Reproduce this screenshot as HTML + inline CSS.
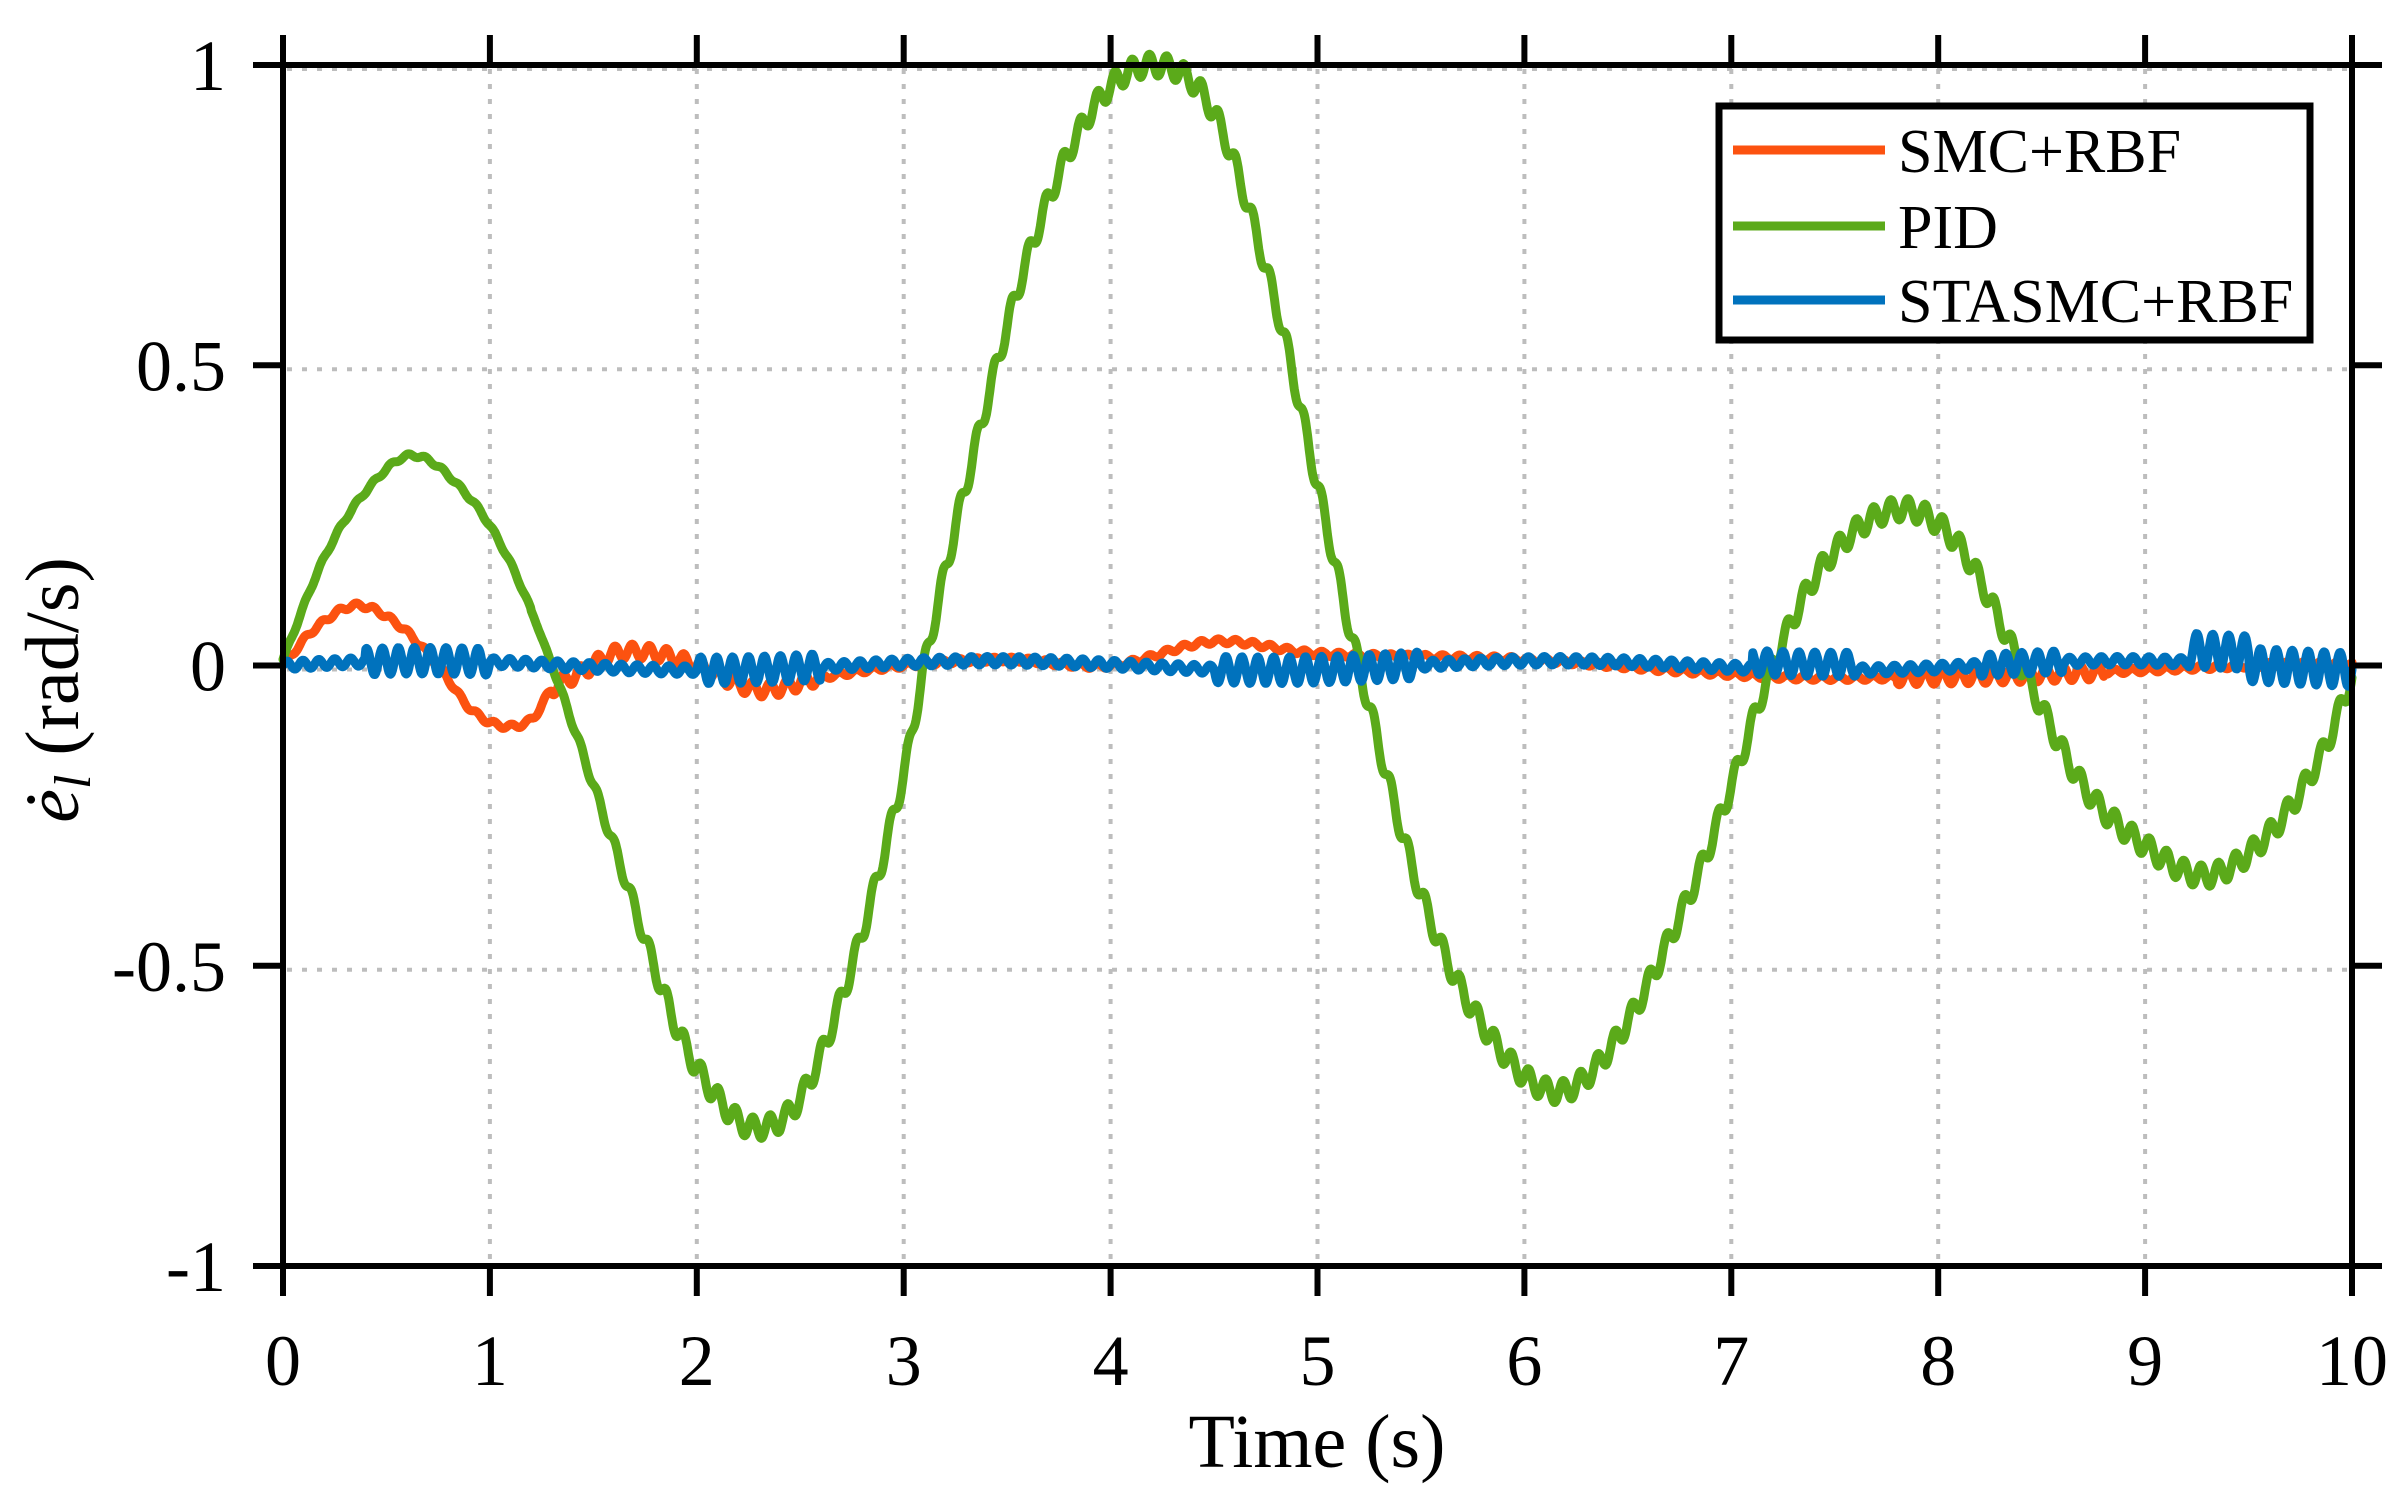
<!DOCTYPE html>
<html><head><meta charset="utf-8"><style>
html,body{margin:0;padding:0;background:#fff;}
svg{display:block;}
text{font-family:"Liberation Serif",serif;fill:#000;}
</style></head><body>
<svg id="s" width="2406" height="1504" viewBox="0 0 2406 1504" xmlns="http://www.w3.org/2000/svg">
<rect width="2406" height="1504" fill="#fff"/>
<g id="grid" stroke="#bdbdbd" stroke-width="4" stroke-dasharray="5 10"></g>
<g id="series" fill="none" stroke-linejoin="round" stroke-linecap="round"></g>
<g id="axes" stroke="#000" stroke-width="6" fill="none"></g>
<g id="labels" font-size="72"></g>
<text x="1317" y="1467" font-size="76" text-anchor="middle">Time (s)</text>
<g transform="translate(78,690) rotate(-90)"><text x="0" y="0" font-size="76" text-anchor="middle"><tspan font-style="italic">ė</tspan><tspan font-style="italic" font-size="52" dy="12">l</tspan><tspan dy="-12">  (rad/s)</tspan></text></g>
<g id="legend">
<rect x="1719" y="106" width="591" height="234" fill="#fff" stroke="#000" stroke-width="7"/>
<line x1="1733" y1="150" x2="1885" y2="150" stroke="#FC5210" stroke-width="9"/>
<line x1="1733" y1="226" x2="1885" y2="226" stroke="#5BAA1A" stroke-width="9"/>
<line x1="1733" y1="300" x2="1885" y2="300" stroke="#0072BD" stroke-width="9"/>
<text x="1898" y="172" font-size="62">SMC+RBF</text>
<text x="1898" y="248" font-size="62">PID</text>
<text x="1898" y="322" font-size="62">STASMC+RBF</text>
</g>
</svg>
<script>
var X0=283,X1=2352,Y1=65,Ym1=1266;
function px(t){return X0+(X1-X0)*t/10;}
function py(v){return (Y1+Ym1)/2-(Ym1-Y1)/2*v;}
var NS="http://www.w3.org/2000/svg";
function el(p,tag,a){var e=document.createElementNS(NS,tag);for(var k in a)e.setAttribute(k,a[k]);p.appendChild(e);return e;}
var g=document.getElementById('grid'),ax=document.getElementById('axes'),lb=document.getElementById('labels');
for(var i=1;i<10;i++){var x=px(i);el(g,'line',{x1:x,y1:Y1+4,x2:x,y2:Ym1-4});}
[0.5,0,-0.5,1].forEach(function(v){el(g,'line',{x1:X0+4,y1:py(v)+4,x2:X1-4,y2:py(v)+4});});
el(ax,'rect',{x:X0,y:Y1,width:X1-X0,height:Ym1-Y1});
for(var i=0;i<=10;i++){var x=px(i);el(ax,'line',{x1:x,y1:Ym1,x2:x,y2:Ym1+30});el(ax,'line',{x1:x,y1:Y1,x2:x,y2:Y1-30});
 var t=el(lb,'text',{x:x,y:1385,'text-anchor':'middle'});t.textContent=i;}
[1,0.5,0,-0.5,-1].forEach(function(v){var y=py(v);el(ax,'line',{x1:X0,y1:y,x2:X0-30,y2:y});el(ax,'line',{x1:X1,y1:y,x2:X1+30,y2:y});
 var t=el(lb,'text',{x:226,y:y+25,'text-anchor':'end'});t.textContent=(v==1?'1':v==-1?'-1':String(v));});
function cr(k,t){var n=k.length;var i=0;while(i<n-2&&t>k[i+1][0])i++;
 var p0=k[Math.max(i-1,0)],p1=k[i],p2=k[i+1],p3=k[Math.min(i+2,n-1)];
 var h=p2[0]-p1[0],u=(t-p1[0])/h;
 var m1=(p2[1]-p0[1])/(p2[0]-p0[0])*h,m2=(p3[1]-p1[1])/(p3[0]-p1[0])*h;
 var u2=u*u,u3=u2*u;
 return (2*u3-3*u2+1)*p1[1]+(u3-2*u2+u)*m1+(-2*u3+3*u2)*p2[1]+(u3-u2)*m2;}
var pid=[[0,0.01],[0.2,0.18],[0.4,0.29],[0.63,0.35],[0.9,0.28],[1.1,0.17],[1.3,0.0],[1.6,-0.3],[1.9,-0.6],[2.1,-0.72],[2.28,-0.77],[2.5,-0.72],[2.75,-0.5],[3.0,-0.18],[3.1,0],[3.3,0.3],[3.6,0.68],[3.9,0.92],[4.2,1.0],[4.5,0.92],[4.8,0.6],[5.0,0.3],[5.2,0],[5.5,-0.38],[5.8,-0.6],[6.15,-0.71],[6.45,-0.62],[6.8,-0.38],[7.0,-0.2],[7.2,0.0],[7.45,0.17],[7.8,0.26],[8.1,0.2],[8.4,0.0],[8.7,-0.2],[9.0,-0.3],[9.3,-0.35],[9.6,-0.28],[9.85,-0.15],[10,-0.02]];
var smc=[[0,0],[0.15,0.06],[0.35,0.1],[0.55,0.07],[0.75,0.0],[0.9,-0.07],[1.05,-0.1],[1.2,-0.09],[1.3,-0.04],[1.45,-0.01],[1.6,0.02],[1.8,0.02],[2.0,0.0],[2.3,-0.04],[2.6,-0.02],[3.0,0.0],[3.5,0.01],[4.0,0.0],[4.5,0.04],[5.0,0.02],[6.0,0.01],[6.8,-0.01],[7.3,-0.02],[7.8,-0.02],[8.5,-0.015],[9.5,0],[10,0.005]];
function path(f){var d='';for(var t=0;t<=10.0001;t+=0.004){d+=(t==0?'M':'L')+px(t).toFixed(1)+' '+py(f(t)).toFixed(1);}return d;}
var sg=document.getElementById('series');
el(sg,'path',{d:path(function(t){var a=(t>1.3&&t<2.6)||(t>7.8&&t<8.8)?0.012:0.004;return cr(smc,t)+a*Math.sin(2*Math.PI*12*t);}),stroke:'#FC5210','stroke-width':9});
el(sg,'path',{d:path(function(t){var r=t<1.2?0.003:Math.min(1,(t-1.2)*1.5)*0.018;return cr(pid,t)+r*Math.sin(2*Math.PI*12*t);}),stroke:'#5BAA1A','stroke-width':9});
el(sg,'path',{d:path(function(t){var a=0.007;
 if(t>0.4&&t<1.0)a=0.022;if(t>2.0&&t<2.6)a=0.022;if(t>4.5&&t<5.5)a=0.022;if(t>7.1&&t<7.6)a=0.02;if(t>8.2&&t<8.6)a=0.018;if(t>9.2)a=0.028;
 var b=0.008*Math.sin(t*2.3)+(t>7.1&&t<7.6?0.01:0)+(t>9.2&&t<9.5?0.02:0);
 return b+a*Math.sin(2*Math.PI*13*t);}),stroke:'#0072BD','stroke-width':9});
</script>
</body></html>
